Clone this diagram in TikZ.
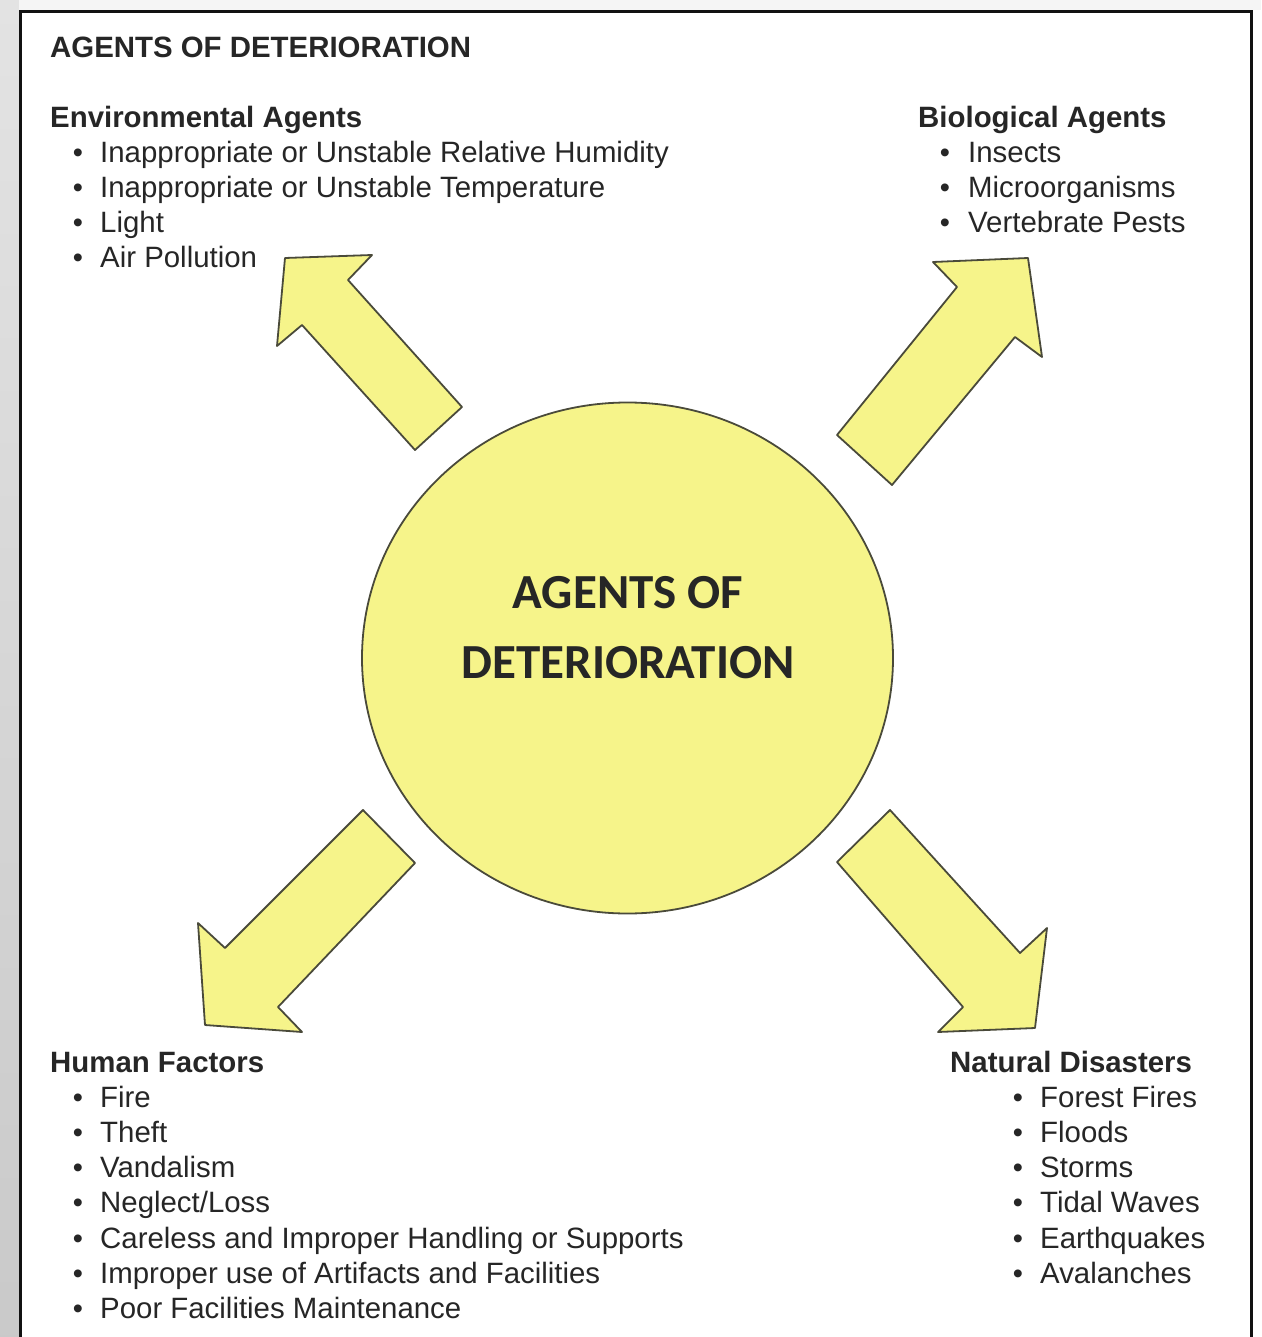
\documentclass[tikz,border=0pt]{standalone}
\usepackage{fontspec}
\setmainfont{Liberation Sans}
\newfontfamily\calib{Carlito}
\usetikzlibrary{shapes.geometric}
\definecolor{yel}{HTML}{F6F48A}
\definecolor{edgec}{HTML}{4A4A3A}
\definecolor{txt}{HTML}{262626}
\definecolor{frame}{HTML}{111111}
\begin{document}
\begin{tikzpicture}[x=1pt,y=-1pt,
  lbl/.style={anchor=base west, inner sep=0pt, text=txt, font=\fontsize{29.4}{35}\selectfont},
  head/.style={anchor=base west, inner sep=0pt, text=txt, font=\fontsize{29.4}{35}\selectfont\bfseries},
  bul/.style={anchor=base, inner sep=0pt, text=txt, font=\fontsize{29}{35}\selectfont},
  ctr/.style={anchor=base, inner sep=0pt, text=txt, font=\calib\bfseries\fontsize{49}{58}\selectfont},
  blk/.style={draw=edgec, fill=yel, line width=1.8pt, line join=round}]
\useasboundingbox (0,0) rectangle (1261,1337);
% background
\fill[white] (0,0) rectangle (1261,1337);
\shade[top color=gray!22, bottom color=gray!42] (0,0) rectangle (19,1337);
\fill[gray!8] (19,0) rectangle (1261,10);
\begin{scope}
\clip (0,0) rectangle (1261,1337);
\draw[frame, line width=3pt, fill=white] (20.5,11.5) rectangle (1251.5,1360);
\end{scope}
% title
\node[head] (title) at (50,58) {AGENTS OF DETERIORATION};
% central circle
\node[ellipse, blk, minimum width=531pt, minimum height=511pt, inner sep=0pt] (hub) at (627.5,658) {};
\node[ctr] (hubA) at (628,608) {AGENTS OF};
\node[ctr] (hubB) at (628,678) {DETERIORATION};
% arrows
\draw[blk] (285,258) -- (372,255) -- (348,280) -- (462,407) -- (415,450) -- (302,325) -- (277,346) -- cycle;
\draw[blk] (1028,258) -- (1042,357) -- (1015,337) -- (892,485) -- (837,435) -- (957,287) -- (933,262) -- cycle;
\draw[blk] (205,1025) -- (198,923) -- (225,948) -- (363,810) -- (415,863) -- (278,1007) -- (302,1032) -- cycle;
\draw[blk] (1035,1028) -- (938,1032) -- (963,1007) -- (837,862) -- (890,810) -- (1020,953) -- (1047,928) -- cycle;
% Environmental
\node[head] (envH) at (50,128) {Environmental Agents};
\node[bul] (envB1) at (78,163) {\textbullet}; \node[lbl] (env1) at (100,163) {Inappropriate or Unstable Relative Humidity};
\node[bul] (envB2) at (78,198) {\textbullet}; \node[lbl] (env2) at (100,198) {Inappropriate or Unstable Temperature};
\node[bul] (envB3) at (78,233) {\textbullet}; \node[lbl] (env3) at (100,233) {Light};
\node[bul] (envB4) at (78,268) {\textbullet}; \node[lbl] (env4) at (100,268) {Air Pollution};
% Biological
\node[head] (bioH) at (918,128) {Biological Agents};
\node[bul] (bioB1) at (945,163) {\textbullet}; \node[lbl] (bio1) at (968,163) {Insects};
\node[bul] (bioB2) at (945,198) {\textbullet}; \node[lbl] (bio2) at (968,198) {Microorganisms};
\node[bul] (bioB3) at (945,233) {\textbullet}; \node[lbl] (bio3) at (968,233) {Vertebrate Pests};
% Human
\node[head] (humH) at (50,1072) {Human Factors};
\node[bul] (humB1) at (78,1107) {\textbullet}; \node[lbl] (hum1) at (100,1107) {Fire};
\node[bul] (humB2) at (78,1142) {\textbullet}; \node[lbl] (hum2) at (100,1142) {Theft};
\node[bul] (humB3) at (78,1177) {\textbullet}; \node[lbl] (hum3) at (100,1177) {Vandalism};
\node[bul] (humB4) at (78,1212) {\textbullet}; \node[lbl] (hum4) at (100,1212) {Neglect/Loss};
\node[bul] (humB5) at (78,1248) {\textbullet}; \node[lbl] (hum5) at (100,1248) {Careless and Improper Handling or Supports};
\node[bul] (humB6) at (78,1283) {\textbullet}; \node[lbl] (hum6) at (100,1283) {Improper use of Artifacts and Facilities};
\node[bul] (humB7) at (78,1318) {\textbullet}; \node[lbl] (hum7) at (100,1318) {Poor Facilities Maintenance};
% Natural
\node[head] (natH) at (950,1072) {Natural Disasters};
\node[bul] (natB1) at (1018,1107) {\textbullet}; \node[lbl] (nat1) at (1040,1107) {Forest Fires};
\node[bul] (natB2) at (1018,1142) {\textbullet}; \node[lbl] (nat2) at (1040,1142) {Floods};
\node[bul] (natB3) at (1018,1177) {\textbullet}; \node[lbl] (nat3) at (1040,1177) {Storms};
\node[bul] (natB4) at (1018,1212) {\textbullet}; \node[lbl] (nat4) at (1040,1212) {Tidal Waves};
\node[bul] (natB5) at (1018,1248) {\textbullet}; \node[lbl] (nat5) at (1040,1248) {Earthquakes};
\node[bul] (natB6) at (1018,1283) {\textbullet}; \node[lbl] (nat6) at (1040,1283) {Avalanches};
\end{tikzpicture}
\end{document}
